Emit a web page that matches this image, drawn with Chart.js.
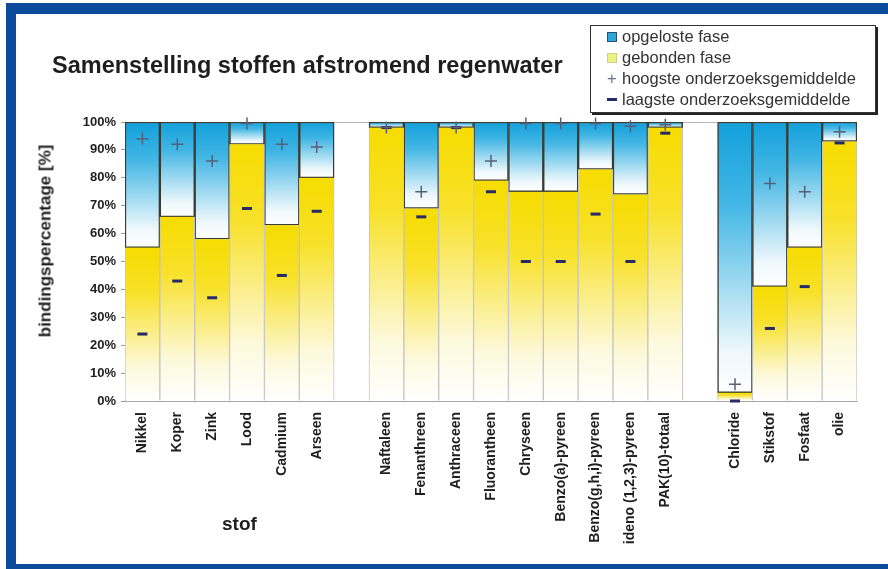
<!DOCTYPE html>
<html>
<head>
<meta charset="utf-8">
<script src="https://cdn.jsdelivr.net/npm/chart.js@4.4.1/dist/chart.umd.min.js"></script>
<style>
  html, body { margin: 0; padding: 0; background: #fff; overflow: hidden; }
  body { width: 888px; height: 569px; position: relative; font-family: "Liberation Sans", Arial, sans-serif; }
  .frame { position: absolute; background: #0c4b9c; }
  #wrap { position: absolute; left: 0; top: 0; width: 888px; height: 569px; }
  .txt { position: absolute; white-space: nowrap; color: #1e1e1e; font-weight: bold; line-height: 1; }
  #legend { position: absolute; left: 590px; top: 25px; width: 284px; height: 86px; border: 1px solid #333;
            box-shadow: 2px 2px 0 #222; background: #fff; font-size: 16.5px; color: #333; }
  #legend div { height: 21px; line-height: 21px; position: relative; padding-left: 31px; }
  #legend .mk { position: absolute; left: 16px; }
</style>
</head>
<body>
<div class="frame" style="left:6px;top:3px;width:882px;height:11px"></div>
<div class="frame" style="left:6px;top:3px;width:10px;height:566px"></div>
<div class="frame" style="left:6px;top:564px;width:882px;height:5px"></div>

<div id="wrap"><canvas id="fasenChart"></canvas></div>

<div class="txt" style="left:52px;top:54px;font-size:23.5px">Samenstelling stoffen afstromend regenwater</div>
<div class="txt" style="left:45px;top:241px;font-size:17px;transform:translate(-50%,-50%) rotate(-90deg)">bindingspercentage [%]</div>
<div class="txt" style="left:222px;top:514px;font-size:19px">stof</div>

<div id="legend">
  <div><span class="mk" style="top:6px;width:8px;height:8px;border:1.5px solid #2c4f70;background:#2aa8dc"></span>opgeloste fase</div>
  <div><span class="mk" style="top:6px;width:8px;height:8px;border:1px solid #c8d090;background:#eef080"></span>gebonden fase</div>
  <div><span class="mk" style="top:0;color:#6a7088;font-weight:normal">+</span>hoogste onderzoeksgemiddelde</div>
  <div><span class="mk" style="top:9px;width:10px;height:3px;background:#262a66"></span>laagste onderzoeksgemiddelde</div>
</div>

<script>
const stoffen = ['Nikkel', 'Koper', 'Zink', 'Lood', 'Cadmium', 'Arseen', '',
    'Naftaleen', 'Fenanthreen', 'Anthraceen', 'Fluorantheen', 'Chryseen', 'Benzo(a)-pyreen',
    'Benzo(g,h,i)-pyreen', 'ideno (1,2,3)-pyreen', 'PAK(10)-totaal', '',
    'Chloride', 'Stikstof', 'Fosfaat', 'olie'];

// gebonden fase (onderste deel van de kolom), in %
const gebonden = [55, 66, 58, 92, 63, 80, null, 98, 69, 98, 79, 75, 75, 83, 74, 98, null, 3, 41, 55, 93];
// opgeloste fase (bovenste deel), in %
const opgelost = [45, 34, 42, 8, 37, 20, null, 2, 31, 2, 21, 25, 25, 17, 26, 2, null, 97, 59, 45, 7];
const hoogste = [94, 92, 86, 99.5, 92, 91, null, 98, 75, 98, 86, 99.5, 99.5, 99.5, 98.5, 99, null, 6, 78, 75, 96.5];
const laagste = [24, 43, 37, 69, 45, 68, null, 98, 66, 98, 75, 50, 50, 67, 50, 96, null, 0, 26, 41, 92.5];

const yTicks = [0, 10, 20, 30, 40, 50, 60, 70, 80, 90, 100];

const FONT = '"Liberation Sans", Arial, sans-serif';

function yellowFill(c) {
    const chart = c.chart;
    if (!chart.chartArea || c.dataIndex === undefined || gebonden[c.dataIndex] == null) return '#f6dc00';
    const y = chart.scales.y;
    const g = chart.ctx.createLinearGradient(0, y.getPixelForValue(gebonden[c.dataIndex]), 0, y.getPixelForValue(0));
    g.addColorStop(0, '#f6dc00');
    g.addColorStop(0.3, '#f8e12a');
    g.addColorStop(0.78, '#fdf9dc');
    g.addColorStop(1, '#ffffff');
    return g;
}

function blueFill(c) {
    const chart = c.chart;
    if (!chart.chartArea || c.dataIndex === undefined || gebonden[c.dataIndex] == null) return '#12a0db';
    const y = chart.scales.y;
    const g = chart.ctx.createLinearGradient(0, y.getPixelForValue(100), 0, y.getPixelForValue(gebonden[c.dataIndex]));
    g.addColorStop(0, '#12a0db');
    g.addColorStop(0.3, '#42b6e4');
    g.addColorStop(0.85, '#eef8fc');
    g.addColorStop(1, '#ffffff');
    return g;
}

const ctx = document.getElementById('fasenChart').getContext('2d');
new Chart(ctx, {
    type: 'bar',
    data: {
        labels: stoffen,
        datasets: [{
            label: 'gebonden fase',
            data: gebonden,
            stack: 'fase',
            order: 1,
            backgroundColor: yellowFill,
            borderColor: '#c4c4c4',
            borderWidth: { top: 0, left: 1, right: 1, bottom: 0 },
            borderSkipped: false
        }, {
            label: 'opgeloste fase',
            data: opgelost,
            stack: 'fase',
            order: 2,
            backgroundColor: blueFill,
            borderColor: '#3a3c34',
            borderWidth: 1.5,
            borderSkipped: false
        }, {
            type: 'line',
            label: 'hoogste onderzoeksgemiddelde',
            data: hoogste,
            stack: 'hoog',
            order: 0,
            showLine: false,
            clip: false,
            pointStyle: 'cross',
            pointRadius: 6,
            pointBorderWidth: 1.5,
            pointBorderColor: '#55607a',
            pointHoverRadius: 6
        }, {
            type: 'line',
            label: 'laagste onderzoeksgemiddelde',
            data: laagste,
            stack: 'laag',
            order: 0,
            showLine: false,
            clip: false,
            pointStyle: 'line',
            pointRadius: 5,
            pointBorderWidth: 3,
            pointBorderColor: '#262a66',
            pointHoverRadius: 5
        }]
    },
    options: {
        responsive: true,
        maintainAspectRatio: false,
        animation: false,
        layout: { padding: { top: 122, right: 31, left: 0, bottom: 0 } },
        plugins: { legend: { display: false }, tooltip: { enabled: false } },
        datasets: { bar: { categoryPercentage: 1, barPercentage: 1 } },
        scales: {
            x: {
                stacked: true,
                grid: { display: false },
                border: { display: true, color: '#a8a8a8', width: 1 },
                afterFit: s => { s.height = 168; },
                ticks: {
                    autoSkip: false, minRotation: 90, maxRotation: 90, padding: 3,
                    color: '#1e1e1e', font: { family: FONT, size: 14, weight: 'bold' }
                }
            },
            y: {
                stacked: true,
                min: 0,
                max: 100,
                afterFit: s => { s.width = 125; },
                afterBuildTicks: s => { s.ticks = yTicks.map(v => ({ value: v })); },
                grid: {
                    color: c => (c.tick && c.tick.value === 100 ? '#b8b8b8' : 'rgba(0,0,0,0)'),
                    tickColor: '#9a9a9a', tickLength: 4
                },
                border: { display: true, color: '#a8a8a8', width: 1 },
                ticks: {
                    padding: 5,
                    color: '#1e1e1e',
                    font: { family: FONT, size: 13, weight: 'bold' },
                    callback: v => v + '%'
                }
            }
        }
    }
});
</script>
</body>
</html>
